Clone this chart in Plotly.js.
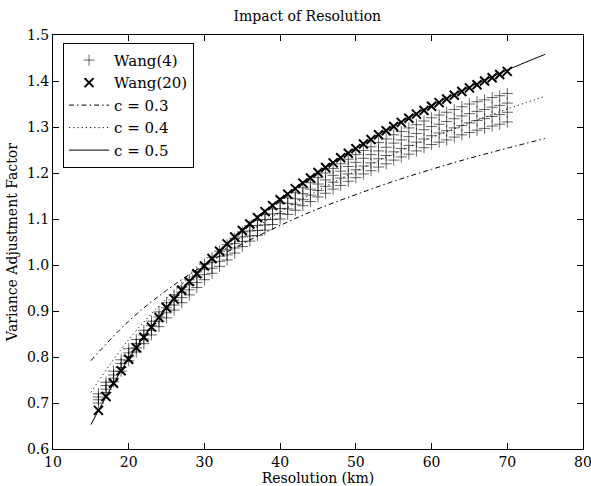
<!DOCTYPE html>
<html>
<head>
<meta charset="utf-8">
<script src="https://cdn.plot.ly/plotly-3.0.1.min.js"></script>
<style>html,body{margin:0;padding:0;background:#fff}#chart{width:591px;height:486px}</style>
</head>
<body>
<div id="chart"></div>
<script>
// Resolution (km) for the Wang markers
var wangX = [16,17,18,19,20,21,22,23,24,25,26,27,28,29,30,31,32,33,34,35,36,37,38,39,40,41,42,43,44,45,46,47,48,49,50,51,52,53,54,55,56,57,58,59,60,61,62,63,64,65,66,67,68,69,70];

// Wang(4): four values per resolution (top to bottom)
var wang4_a = [0.720,0.745,0.769,0.794,0.818,0.838,0.858,0.878,0.898,0.918,0.935,0.952,0.968,0.985,1.002,1.016,1.030,1.044,1.058,1.072,1.085,1.097,1.110,1.122,1.135,1.146,1.157,1.168,1.179,1.190,1.200,1.210,1.220,1.230,1.240,1.249,1.257,1.266,1.274,1.283,1.290,1.298,1.305,1.313,1.320,1.326,1.332,1.338,1.344,1.350,1.355,1.359,1.364,1.368,1.373];
var wang4_b = [0.713,0.738,0.761,0.786,0.809,0.829,0.848,0.868,0.887,0.907,0.924,0.941,0.957,0.974,0.991,1.005,1.019,1.033,1.047,1.061,1.074,1.086,1.099,1.111,1.123,1.134,1.144,1.155,1.165,1.176,1.185,1.195,1.204,1.214,1.223,1.232,1.240,1.248,1.256,1.265,1.272,1.279,1.286,1.294,1.301,1.306,1.312,1.318,1.324,1.329,1.334,1.338,1.343,1.347,1.352];
var wang4_c = [0.707,0.730,0.754,0.777,0.801,0.820,0.839,0.858,0.877,0.896,0.913,0.929,0.946,0.962,0.979,0.993,1.008,1.022,1.037,1.051,1.063,1.075,1.087,1.099,1.112,1.122,1.132,1.142,1.152,1.162,1.171,1.180,1.189,1.198,1.207,1.215,1.222,1.231,1.238,1.246,1.253,1.260,1.267,1.274,1.281,1.287,1.292,1.298,1.303,1.309,1.314,1.318,1.323,1.327,1.332];
var wang4_d = [0.700,0.723,0.746,0.769,0.792,0.811,0.829,0.848,0.866,0.885,0.902,0.918,0.935,0.951,0.968,0.982,0.997,1.011,1.026,1.040,1.052,1.064,1.076,1.088,1.100,1.110,1.119,1.129,1.138,1.148,1.156,1.165,1.173,1.182,1.190,1.198,1.205,1.213,1.220,1.228,1.235,1.241,1.248,1.255,1.262,1.267,1.272,1.278,1.283,1.288,1.293,1.297,1.302,1.306,1.311];

// Wang(20)
var wang20 = [0.684,0.714,0.743,0.770,0.795,0.820,0.843,0.865,0.886,0.907,0.926,0.945,0.964,0.981,0.998,1.014,1.030,1.046,1.061,1.075,1.089,1.103,1.116,1.129,1.142,1.154,1.166,1.178,1.189,1.201,1.212,1.222,1.233,1.243,1.253,1.263,1.273,1.283,1.292,1.301,1.310,1.319,1.328,1.336,1.345,1.353,1.361,1.369,1.377,1.385,1.392,1.400,1.407,1.414,1.421];

// Model curves
var lineX = [15,20,25,30,35,40,45,50,55,60,65,70,75];
var c03 = [0.792,0.878,0.945,1.000,1.046,1.086,1.122,1.153,1.182,1.208,1.232,1.254,1.275];
var c04 = [0.723,0.838,0.927,1.000,1.062,1.115,1.162,1.204,1.242,1.277,1.309,1.339,1.367];
var c05 = [0.653,0.797,0.909,1.000,1.077,1.144,1.203,1.255,1.303,1.347,1.387,1.424,1.458];

var xTicks = [10,20,30,40,50,60,70,80];
var yTicks = [0.6,0.7,0.8,0.9,1.0,1.1,1.2,1.3,1.4,1.5];

var w4x = [], w4y = [];
[wang4_a, wang4_b, wang4_c, wang4_d].forEach(function(arr){
  for (var i = 0; i < wangX.length; i++) { w4x.push(wangX[i]); w4y.push(arr[i]); }
});

var font = "DejaVu Serif, Liberation Serif, serif";

var traces = [
  {x: w4x, y: w4y, mode: 'markers', name: 'Wang(4)', type: 'scatter',
   marker: {symbol: 'cross-thin-open', size: 8, color: 'rgba(0,0,0,0.6)', line: {width: 1, color: 'rgba(0,0,0,0.6)'}}},
  {x: wangX, y: wang20, mode: 'markers', name: 'Wang(20)', type: 'scatter',
   marker: {symbol: 'x-thin-open', size: 9, color: '#000', line: {width: 2, color: '#000'}}},
  {x: lineX, y: c03, mode: 'lines', name: 'c = 0.3', type: 'scatter',
   line: {color: '#000', width: 1, dash: '5px,3px,1.5px,3px', shape: 'spline'}},
  {x: lineX, y: c04, mode: 'lines', name: 'c = 0.4', type: 'scatter',
   line: {color: '#000', width: 1, dash: '1.2px,3px', shape: 'spline'}},
  {x: lineX, y: c05, mode: 'lines', name: 'c = 0.5', type: 'scatter',
   line: {color: '#000', width: 1, shape: 'spline'}}
];

var axisCommon = {
  showgrid: false, zeroline: false, showline: true, linecolor: '#000', linewidth: 1,
  mirror: 'ticks', ticks: 'inside', ticklen: 6, tickcolor: '#000', tickwidth: 1,
  tickfont: {family: font, size: 14, color: '#000'}, ticklabeloverflow: 'allow'
};

var layout = {
  width: 591, height: 486,
  margin: {l: 53, r: 8, t: 35, b: 37, pad: 0},
  paper_bgcolor: '#fff', plot_bgcolor: '#fff',
  font: {family: font, color: '#000'},
  title: {text: 'Impact of Resolution', font: {family: font, size: 14, color: '#000'}, x: 0.52, xanchor: 'center', y: 0.976, yanchor: 'top'},
  xaxis: Object.assign({}, axisCommon, {
    range: [10, 80], tickmode: 'array', tickvals: xTicks, ticktext: xTicks.map(String),
    title: {text: 'Resolution (km)', font: {family: font, size: 14, color: '#000'}, standoff: 2}
  }),
  yaxis: Object.assign({}, axisCommon, {
    range: [0.6, 1.5], tickmode: 'array', tickvals: yTicks, ticktext: yTicks.map(function(v){return v.toFixed(1);}),
    title: {text: 'Variance Adjustment Factor', font: {family: font, size: 14, color: '#000'}, standoff: 6}
  }),
  showlegend: true,
  legend: {x: 0.019, y: 0.981, xanchor: 'left', yanchor: 'top', bgcolor: '#fff', bordercolor: '#000', borderwidth: 1,
    font: {family: font, size: 15, color: '#000'}, tracegroupgap: 0, itemwidth: 40}
};

Plotly.newPlot('chart', traces, layout, {displayModeBar: false, staticPlot: true});
</script>
</body>
</html>
